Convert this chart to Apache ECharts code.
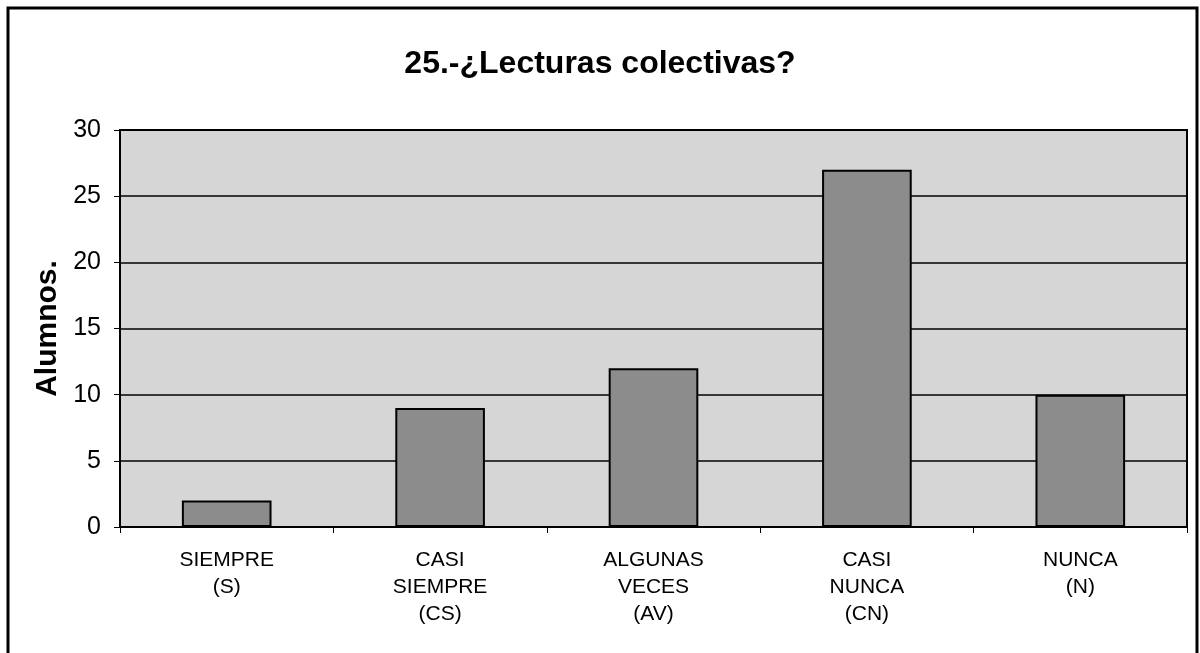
<!DOCTYPE html>
<html>
<head>
<meta charset="utf-8">
<script src="https://cdn.jsdelivr.net/npm/echarts@6/dist/echarts.min.js"></script>
<style>
    html, body { margin: 0; padding: 0; background: #fff; }
    #chart { width: 1200px; height: 653px; }
</style>
</head>
<body>
<div id="chart"></div>
<script>
    // categorias y valores
    const categories = ['SIEMPRE\n(S)', 'CASI\nSIEMPRE\n(CS)', 'ALGUNAS\nVECES\n(AV)', 'CASI\nNUNCA\n(CN)', 'NUNCA\n(N)']
    const alumnos = [2, 9, 12, 27, 10]
    const yTicks = [0, 5, 10, 15, 20, 25, 30]

    let myChart = echarts.init(document.getElementById('chart'))
    myChart.setOption({
        animation: false,
        title: {
            text: '25.-¿Lecturas colectivas?',
            left: 'center',
            top: 43,
            textStyle: { fontFamily: 'Liberation Sans', fontSize: 32, fontWeight: 'bold', color: '#000' }
        },
        graphic: [{
            type: 'rect',
            shape: { x: 8, y: 8, width: 1189, height: 660 },
            style: { fill: 'none', stroke: '#000', lineWidth: 3 },
            silent: true
        }],
        grid: { left: 120, right: 13, top: 130, bottom: 126, show: true, backgroundColor: '#d6d6d6', borderColor: '#000', borderWidth: 2 },
        xAxis: {
            type: 'category',
            data: categories,
            axisLine: { lineStyle: { color: '#000', width: 2 } },
            axisTick: { show: true, length: 6, lineStyle: { color: '#000' } },
            axisLabel: { interval: 0, margin: 20, lineHeight: 27, color: '#000', fontFamily: 'Liberation Sans', fontSize: 21 }
        },
        yAxis: {
            type: 'value',
            min: yTicks[0],
            max: yTicks[yTicks.length - 1],
            interval: 5,
            name: 'Alumnos.',
            nameLocation: 'middle',
            nameGap: 54,
            nameTextStyle: { fontFamily: 'Liberation Sans', fontSize: 30, fontWeight: 'bold', color: '#000' },
            axisLine: { show: true, lineStyle: { color: '#000', width: 2 } },
            axisTick: { show: true, length: 6, lineStyle: { color: '#000' } },
            axisLabel: { margin: 19, color: '#000', fontFamily: 'Liberation Sans', fontSize: 25 },
            splitLine: { show: true, lineStyle: { color: '#000', width: 1.5 } }
        },
        series: [{
            name: 'Alumnos',
            type: 'bar',
            data: alumnos,
            barWidth: '42%',
            itemStyle: { color: '#8c8c8c', borderColor: '#000', borderWidth: 2 }
        }]
    })
    window.onresize = myChart.resize
</script>
</body>
</html>
